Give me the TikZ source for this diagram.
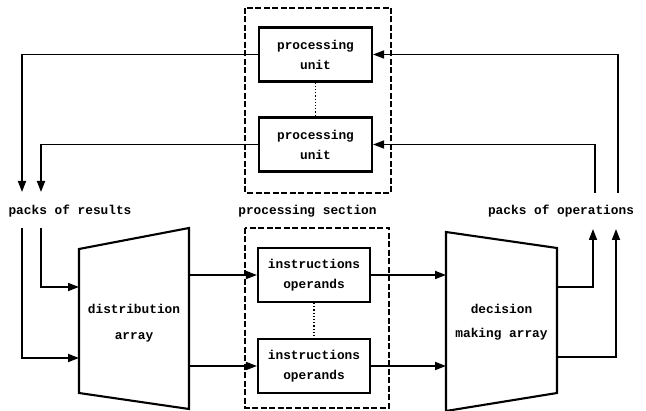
\documentclass[tikz,border=0pt]{standalone}
\usepackage{fontspec}
\setmonofont{Liberation Mono}
\usetikzlibrary{arrows.meta}
\begin{document}
\begin{tikzpicture}[x=1pt,y=-1pt,
  lbl/.style={font=\ttfamily\bfseries\fontsize{12.8}{20}\selectfont, inner sep=0pt, align=center},
  unitbox/.style={draw, line width=2.1pt, minimum width=113pt, minimum height=54pt, lbl},
  group/.style={draw, line width=1.4pt, dash pattern=on 6pt off 2.5pt},
  link/.style={line width=1.7pt, -{Triangle[length=11pt,width=8pt]}},
  sep/.style={line width=1.2pt, dotted},
  trap/.style={draw, line width=2.1pt, line join=miter}]
\useasboundingbox (0,0) rectangle (646,411);

% processing section (top half)
\draw[group] (245,8) rectangle (391,193);
\node[unitbox] (pu1) at (315.5,54.5) {\raisebox{-2pt}{processing}\\\raisebox{-2pt}{unit}};
\node[unitbox] (pu2) at (315.5,144.5) {\raisebox{-2pt}{processing}\\\raisebox{-2pt}{unit}};
\draw[sep] (pu1.south) -- (pu2.north);

% processing section (bottom half)
\draw[group] (245,228) rectangle (389,408);
\node[unitbox, minimum width=112pt] (ib1) at (314,275) {instructions\\operands};
\node[unitbox, minimum width=112pt] (ib2) at (314,366) {instructions\\operands};
\draw[sep] (ib1.south) -- (ib2.north);

% distribution array
\draw[trap] (79,249) -- (189,228) -- (189,409) -- (79,393) -- cycle;
\node[lbl] (da) at (134,323) {distribution\\[6pt]array};
\coordinate (da-in1) at (79,287);
\coordinate (da-in2) at (79,358);
\coordinate (da-out1) at (189,275);
\coordinate (da-out2) at (189,366);

% decision making array
\draw[trap] (446,232) -- (557,248) -- (557,393) -- (446,411) -- cycle;
\node[lbl] (dm) at (501.5,322) {decision\\[4pt]making array};
\coordinate (dm-in1) at (446,275);
\coordinate (dm-in2) at (446,366);
\coordinate (dm-out1) at (557,287);
\coordinate (dm-out2) at (557,357);

% labels
\node[lbl] (res) at (70,211) {packs of results};
\node[lbl] (sec) at (307.5,211) {processing section};
\node[lbl] (ops) at (561,211) {packs of operations};

% free ends of the feedback lines
\coordinate (r1) at (22,192);
\coordinate (r2) at (41,192);
\coordinate (r1b) at (22,228);
\coordinate (r2b) at (41,228);
\coordinate (o1) at (618,193);
\coordinate (o2) at (595,193);
\coordinate (o1b) at (616,229);
\coordinate (o2b) at (593,229);

% results returned from the processing units
\draw[link] (pu1.west) -| (r1);
\draw[link] (pu2.west) -| (r2);
% results fed into the distribution array
\draw[link] (r2b) |- (da-in1);
\draw[link] (r1b) |- (da-in2);
% distribution to processing section
\draw[link] (da-out1) -- (ib1.west);
\draw[link] (da-out2) -- (ib2.west);
% processing section to decision making
\draw[link] (ib1.east) -- (dm-in1);
\draw[link] (ib2.east) -- (dm-in2);
% decision making outputs
\draw[link] (dm-out1) -| (o2b);
\draw[link] (dm-out2) -| (o1b);
% operations sent to the processing units
\draw[link] (o1) |- (pu1.east);
\draw[link] (o2) |- (pu2.east);
\end{tikzpicture}
\end{document}
